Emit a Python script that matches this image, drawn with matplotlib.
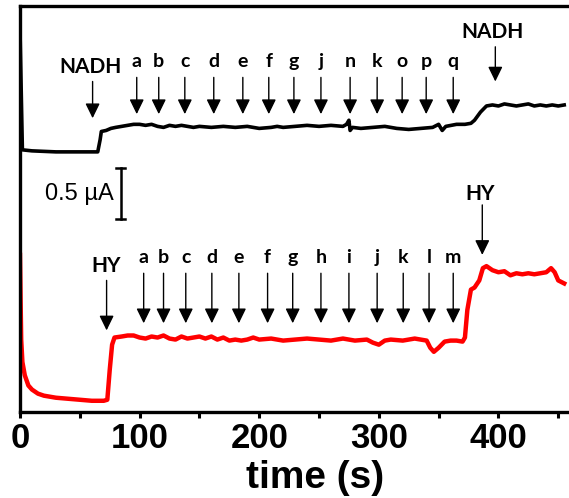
import matplotlib
matplotlib.use("Agg")
import matplotlib.pyplot as plt
from matplotlib.ticker import MultipleLocator

# black trace: NADH additions (time s, current uA)
t_nadh = [0, 1, 2, 10, 30, 50, 65, 67, 68, 72, 76, 80, 85, 90, 95, 100, 105, 110, 115, 120,
          125, 130, 135, 140, 145, 150, 160, 170, 180, 190, 200, 210, 215, 220, 230, 240, 250,
          260, 270, 273, 275, 276, 278, 285, 295, 305, 315, 325, 335, 345, 350, 353, 356, 365,
          372, 377, 380, 385, 390, 395, 400, 405, 410, 415, 420, 425, 430, 435, 440, 445, 450, 455]
i_nadh = [3.75, 3.16, 2.57, 2.56, 2.55, 2.55, 2.55, 2.67, 2.75, 2.76, 2.78, 2.79, 2.80, 2.81, 2.82, 2.82, 2.81, 2.82, 2.80, 2.79,
          2.81, 2.80, 2.81, 2.80, 2.79, 2.80, 2.79, 2.80, 2.79, 2.80, 2.78, 2.79, 2.80, 2.79, 2.80, 2.81, 2.80,
          2.81, 2.80, 2.82, 2.86, 2.76, 2.79, 2.78, 2.79, 2.80, 2.78, 2.77, 2.78, 2.79, 2.82, 2.76, 2.80, 2.82,
          2.82, 2.83, 2.86, 2.94, 3.00, 3.01, 3.00, 3.02, 3.01, 3.00, 3.01, 3.02, 3.00, 3.01, 3.00, 3.01, 3.00, 3.01]

# red trace: HY additions
t_hy = [0, 0.5, 1, 2, 4, 7, 10, 15, 20, 30, 40, 50, 60, 70, 73, 75, 77, 79, 85, 90, 95, 100,
        105, 110, 115, 120, 125, 130, 135, 140, 145, 150, 155, 160, 165, 170, 175, 180, 185, 190,
        195, 200, 210, 220, 230, 240, 250, 260, 270, 280, 290, 295, 300, 305, 310, 320, 330, 340,
        343, 346, 350, 355, 360, 365, 370, 372, 374, 377, 380, 384, 387, 390, 395, 400, 405, 410,
        415, 420, 425, 430, 435, 440, 444, 447, 450, 455]
i_hy = [1.54, 1.10, 0.71, 0.49, 0.36, 0.26, 0.22, 0.18, 0.16, 0.14, 0.13, 0.12, 0.11, 0.11, 0.12, 0.41, 0.66, 0.73, 0.74, 0.75, 0.75, 0.73,
        0.72, 0.74, 0.73, 0.75, 0.72, 0.71, 0.74, 0.72, 0.73, 0.74, 0.72, 0.74, 0.71, 0.73, 0.70, 0.71, 0.70, 0.71,
        0.73, 0.71, 0.72, 0.70, 0.71, 0.72, 0.71, 0.70, 0.72, 0.70, 0.71, 0.68, 0.66, 0.70, 0.71, 0.70, 0.72, 0.70,
        0.63, 0.59, 0.63, 0.69, 0.70, 0.70, 0.69, 0.73, 1.00, 1.20, 1.22, 1.29, 1.41, 1.43, 1.39, 1.37, 1.38, 1.34,
        1.36, 1.35, 1.36, 1.35, 1.36, 1.37, 1.41, 1.37, 1.29, 1.26]

# addition marks
nadh_letters = ["a", "b", "c", "d", "e", "f", "g", "j", "n", "k", "o", "p", "q"]
nadh_times = [97.6, 116, 137.8, 162, 186.3, 208, 229, 251.6, 276, 298.6, 319.5, 339.6, 362.2]
nadh_start = [60.7, 397.4]
hy_letters = ["a", "b", "c", "d", "e", "f", "g", "h", "i", "j", "k", "l", "m"]
hy_times = [103.4, 120, 138.6, 160.4, 183, 207, 228, 251.6, 275, 298.6, 320.4, 342, 362.2]
hy_start = [72.4, 386.5]

fig = plt.figure(figsize=(5.69, 4.98), dpi=100)
ax = fig.add_axes([20 / 569, 1 - 412 / 498, 1 - 20 / 569, 406 / 498])

ax.plot(t_nadh, i_nadh, color="black", lw=2.6, solid_joinstyle="round")
ax.plot(t_hy, i_hy, color="red", lw=3.2, solid_joinstyle="round")

let_font = dict(family="Lato", weight="bold", fontsize=14, ha="center", va="baseline")
big_font = dict(family="Lato", weight="bold", fontsize=15, ha="center", va="baseline")
aprops = dict(arrowstyle="-|>,head_length=0.45,head_width=0.22", lw=1, color="black",
              shrinkA=0, shrinkB=0, mutation_scale=20)


def arrow(t, y0, y1):
    ax.annotate("", xy=(t, y1), xytext=(t, y0), arrowprops=aprops)


for lab, t in zip(nadh_letters, nadh_times):
    ax.text(t, 3.38, lab, **let_font)
    arrow(t, 3.28, 2.92)
for lab, t in zip(hy_letters, hy_times):
    ax.text(t, 1.46, lab, **let_font)
    arrow(t, 1.36, 0.87)

ax.text(nadh_start[0] - 2, 3.32, "NADH", **big_font)
arrow(nadh_start[0], 3.24, 2.88)
ax.text(nadh_start[1] - 2, 3.67, "NADH", **big_font)
arrow(nadh_start[1], 3.58, 3.24)
ax.text(hy_start[0], 1.37, "HY", **big_font)
arrow(hy_start[0], 1.29, 0.80)
ax.text(hy_start[1] - 2, 2.08, "HY", **big_font)
arrow(hy_start[1], 2.03, 1.54)

# 0.5 uA scale bar
ax.plot([84.2, 84.2], [1.89, 2.39], color="black", lw=1.8)
ax.plot([80.2, 88.2], [2.39, 2.39], color="black", lw=1.8)
ax.plot([80.2, 88.2], [1.89, 1.89], color="black", lw=1.8)
ax.text(78, 2.14, "0.5 µA", family="Liberation Sans", fontsize=17, ha="right", va="center")

ax.set_xlim(0, 459)
ax.set_ylim(0, 3.98)
ax.xaxis.set_major_locator(MultipleLocator(100))
ax.xaxis.set_minor_locator(MultipleLocator(50))
ax.set_yticks([])
ax.spines["right"].set_visible(False)
for s in ["left", "top", "bottom"]:
    ax.spines[s].set_linewidth(2.4)
ax.tick_params(axis="x", which="major", direction="out", length=4, width=2.2, pad=3)
ax.tick_params(axis="x", which="minor", direction="out", length=4, width=2.2)
for lbl in ax.get_xticklabels():
    lbl.set_family("Liberation Sans")
    lbl.set_weight("bold")
    lbl.set_fontsize(25)
ax.set_xlabel("time (s)", family="Liberation Sans", weight="bold", fontsize=28, labelpad=0)
ax.xaxis.set_label_coords(0.537, -0.118)

fig.savefig("out.png", dpi=100)
